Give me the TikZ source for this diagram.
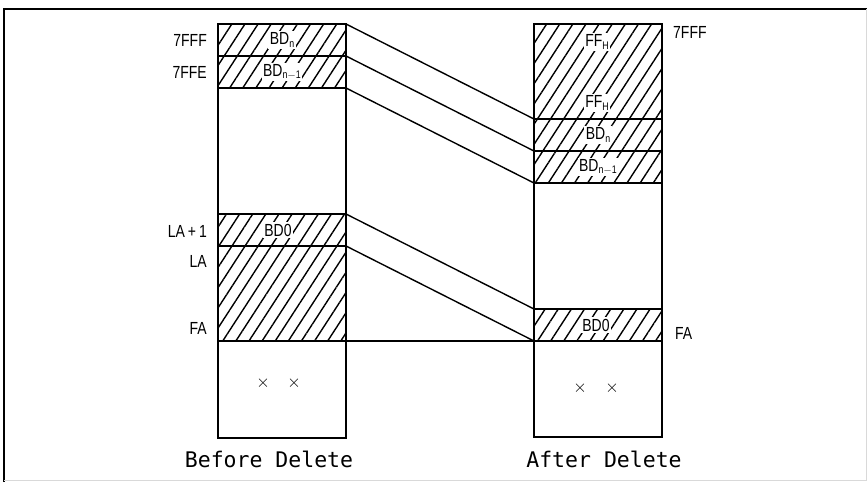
\documentclass[tikz,border=0pt]{standalone}
\usepackage{fontspec}
\newfontfamily\labfont{Liberation Sans}[FakeStretch=0.8]
\newfontfamily\titfont{DejaVu Sans Mono}
\usetikzlibrary{patterns.meta}
\tikzset{
  cell/.style={draw, line width=1.7pt, inner sep=0pt, outer sep=0pt, minimum width=128pt},
  hatch/.style={pattern={Lines[angle=57,distance=11pt,line width=1.4pt]}},
  conn/.style={line width=1.4pt},
  lab/.style={font=\labfont\fontsize{17.5}{17.5}\selectfont, inner sep=1pt},
  inlab/.style={font=\labfont\fontsize{17.5}{17.5}\selectfont, inner sep=1.5pt, fill=white},
  tit/.style={font=\titfont\fontsize{21.5}{22}\selectfont, inner sep=0pt},
  xm/.style={font=\fontsize{18}{18}\selectfont, inner sep=0pt}
}
\newcommand{\sbs}[1]{\raisebox{-0.3ex}{\fontsize{11}{11}\selectfont #1}}
\begin{document}
\begin{tikzpicture}[x=1pt,y=-1pt]
\useasboundingbox (0,0) rectangle (867,482);
% frame
\draw[line width=2.4pt] (4,482) -- (4,9) -- (867,9);
\draw[line width=0.8pt, black!15] (866,9) -- (866,480) -- (4,480);
% left column
\node[cell, hatch, minimum height=32pt] (L1) at (282,40) {};
\node[cell, hatch, minimum height=32pt] (L2) at (282,72) {};
\node[cell, minimum height=126pt] (L3) at (282,151) {};
\node[cell, hatch, minimum height=32pt] (L4) at (282,230) {};
\node[cell, hatch, minimum height=95pt] (L5) at (282,293.5) {};
\node[cell, minimum height=97pt] (L6) at (282,389.5) {};
% right column
\node[cell, hatch, minimum height=95pt] (R1) at (598,71.5) {};
\node[cell, hatch, minimum height=32pt] (R2) at (598,135) {};
\node[cell, hatch, minimum height=32pt] (R3) at (598,167) {};
\node[cell, minimum height=126pt] (R4) at (598,246) {};
\node[cell, hatch, minimum height=32pt] (R5) at (598,325) {};
\node[cell, minimum height=96pt] (R6) at (598,389) {};
% texts in cells
\node[inlab] (tL1) at (282,40) {BD\sbs{n}};
\node[inlab] (tL2) at (282,72) {BD\sbs{n$-$1}};
\node[inlab] (tL4) at (278,230) {BD0};
\node[inlab] (tR1a) at (597,42) {FF\sbs{H}};
\node[inlab] (tR1b) at (597,103) {FF\sbs{H}};
\node[inlab] (tR2) at (598,135) {BD\sbs{n}};
\node[inlab] (tR3) at (598,167) {BD\sbs{n$-$1}};
\node[inlab] (tR5) at (596,325) {BD0};
\node[xm] (xL1) at (263,383) {$\times$};
\node[xm] (xL2) at (294,383) {$\times$};
\node[xm] (xR1) at (580,388) {$\times$};
\node[xm] (xR2) at (612,388) {$\times$};
% address labels
\node[lab, anchor=east] (a1) at (208,40) {7FFF};
\node[lab, anchor=east] (a2) at (208,72) {7FFE};
\node[lab, anchor=east] (a3) at (208,231) {LA\,+\,1};
\node[lab, anchor=east] (a4) at (208,261) {LA};
\node[lab, anchor=east] (a5) at (208,328) {FA};
\node[lab, anchor=west] (a6) at (672,32) {7FFF};
\node[lab, anchor=west] (a7) at (674,333) {FA};
% titles
\node[tit] (t1) at (269,459) {Before Delete};
\node[tit] (t2) at (604,459) {After Delete};
% connectors
\draw[conn] (L1.north east) -- (R1.south west);
\draw[conn] (L2.north east) -- (R2.south west);
\draw[conn] (L2.south east) -- (R3.south west);
\draw[conn] (L4.north east) -- (R5.north west);
\draw[conn] (L5.north east) -- (R5.south west);
\draw[conn] (L5.south east) -- (R5.south west);
\end{tikzpicture}
\end{document}
